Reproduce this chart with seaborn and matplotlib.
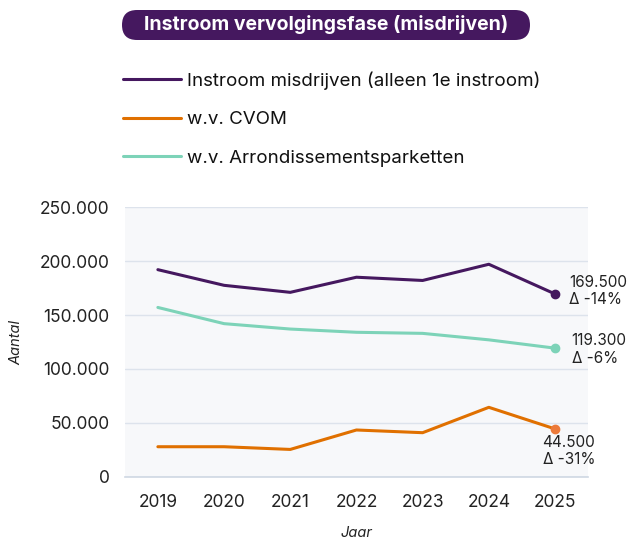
import matplotlib
matplotlib.use("Agg")
import matplotlib.pyplot as plt
import matplotlib.ticker as mticker
from matplotlib.lines import Line2D
from matplotlib.patches import FancyBboxPatch
import pandas as pd
import seaborn as sns

# data
jaren = ["2019", "2020", "2021", "2022", "2023", "2024", "2025"]
misdrijven = [192000, 177500, 171000, 185000, 182000, 197000, 169500]
cvom = [28000, 28000, 25500, 43500, 41000, 64500, 44500]
arrondissement = [157000, 142000, 137000, 134000, 133000, 127000, 119300]
delta_labels = ["Δ -14%", "Δ -31%", "Δ -6%"]

reeksen = ["Instroom misdrijven (alleen 1e instroom)", "w.v. CVOM", "w.v. Arrondissementsparketten"]
kleuren = ["#45185f", "#e07000", "#7dd3b8"]
punt_kleuren = ["#45185f", "#ec7a3a", "#7dd3b8"]

df = pd.DataFrame({
    "Jaar": jaren * 3,
    "Aantal": misdrijven + cvom + arrondissement,
    "Reeks": [reeksen[0]] * 7 + [reeksen[1]] * 7 + [reeksen[2]] * 7,
})

sns.set_style("white")
plt.rcParams["font.family"] = ["Inter", "DejaVu Sans"]

fig = plt.figure(figsize=(6.27, 5.42), dpi=100)
ax = fig.add_axes([0.199, 0.12, 0.739, 0.498])
ax.set_facecolor("#f7f8fa")

sns.lineplot(data=df, x="Jaar", y="Aantal", hue="Reeks", palette=kleuren,
             linewidth=2.2, legend=False, ax=ax)

# endpoint markers + labels
laatste = [misdrijven[-1], cvom[-1], arrondissement[-1]]
offsets = [(10, 2), (-9, -16), (12, -1)]
for i, (val, kleur) in enumerate(zip(laatste, punt_kleuren)):
    ax.scatter([jaren[-1]], [val], color=kleur, s=36, zorder=5)
    tekst = f"{val:,}".replace(",", ".") + "\n" + delta_labels[i]
    ax.annotate(tekst, (6, val), xytext=offsets[i], textcoords="offset points",
                fontsize=11, color="#222222", va="center", ha="left",
                linespacing=1.2, annotation_clip=False)

ax.set_ylim(0, 250000)
ax.set_xlim(-0.5, 6.5)
ax.yaxis.set_major_locator(mticker.MultipleLocator(50000))
ax.yaxis.set_major_formatter(mticker.FuncFormatter(lambda v, p: f"{int(v):,}".replace(",", ".")))
ax.grid(axis="y", color="#dde3ec", linewidth=1)
ax.set_axisbelow(True)

for s in ["top", "right", "left"]:
    ax.spines[s].set_visible(False)
ax.spines["bottom"].set_color("#cfd8e3")
ax.spines["bottom"].set_linewidth(1.2)

# category boundary ticks on x axis
ax.set_xticks(range(7))
ax.set_xticks([i - 0.5 for i in range(8)], minor=True)
ax.tick_params(axis="x", which="major", length=0, pad=12, labelsize=12.5, labelcolor="#222222")
ax.tick_params(axis="x", which="minor", length=6, color="#cfd8e3", direction="in")
ax.tick_params(axis="y", length=0, pad=11, labelsize=12.5, labelcolor="#222222")

ax.set_xlabel("Jaar", fontstyle="italic", fontsize=10.5, labelpad=11, color="#222222")
ax.set_ylabel("Aantal", fontstyle="italic", fontsize=10.5, labelpad=12, color="#222222")

# legend
handles = [Line2D([0], [0], color=k, linewidth=2.2) for k in kleuren]
fig.legend(handles, reeksen, loc="upper left", bbox_to_anchor=(0.169, 0.90),
           frameon=False, fontsize=13.5, handlelength=3.1, handletextpad=0.32,
           labelspacing=1.15, labelcolor="#111111")

# title pill, drawn in inches so the ends are round
pill = FancyBboxPatch((1.22, 5.02), 4.08, 0.30,
                      boxstyle="round,pad=0,rounding_size=0.15",
                      transform=fig.dpi_scale_trans, facecolor="#45185f", edgecolor="none")
fig.patches.append(pill)
fig.text(326 / 627, 1 - 25 / 542, "Instroom vervolgingsfase (misdrijven)", ha="center", va="center",
         fontsize=14, fontweight="bold", color="white")

fig.savefig("out.png", dpi=100)
